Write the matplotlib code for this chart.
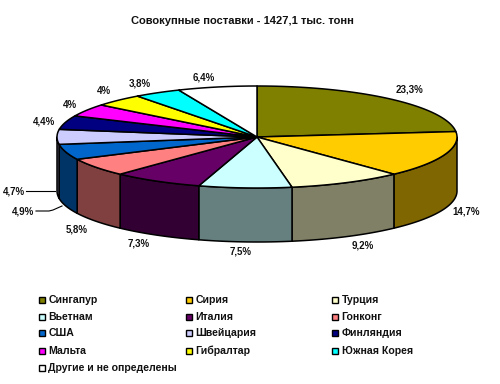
#!/usr/bin/env python3
"""3D-looking pie of total deliveries, drawn by hand since matplotlib has no 3D pie."""

import matplotlib
import numpy as np

matplotlib.use("Agg")
import matplotlib.pyplot as plt
from matplotlib.patches import Polygon, Rectangle

plt.rcParams["font.family"] = ["Liberation Sans", "DejaVu Sans"]

TITLE = "Совокупные поставки - 1427,1 тыс. тонн"
countries = [
    "Сингапур", "Сирия", "Турция", "Вьетнам", "Италия", "Гонконг", "США",
    "Швейцария", "Финляндия", "Мальта", "Гибралтар", "Южная Корея",
    "Другие и не определены",
]
shares = [23.3, 14.7, 9.2, 7.5, 7.3, 5.8, 4.9, 4.7, 4.4, 4.0, 4.0, 3.8, 6.4]
share_labels = [
    "23,3%", "14,7%", "9,2%", "7,5%", "7,3%", "5,8%", "4,9%",
    "4,7%", "4,4%", "4%", "4%", "3,8%", "6,4%",
]
top_colors = [
    "#808000", "#FFCC00", "#FFFFCC", "#CCFFFF", "#660066", "#FF8080", "#0066CC",
    "#CCCCFF", "#000080", "#FF00FF", "#FFFF00", "#00FFFF", "#FFFFFF",
]

# layout, in image pixels
CX, CY, RX, RY, DEPTH = 257, 137, 200, 51, 54
label_pos = [
    (409, 90), (466, 212), (363, 245), (241, 251), (139, 244), (77, 229), (23, 212),
    (14, 191), (44, 121), (70, 105), (104, 91), (140, 84), (204, 78),
]
legend_cols = [42, 189, 335]
legend_rows = [300, 317, 333, 351, 368]


def rim(start, end, dy=0.0):
    theta = np.radians(np.linspace(start, end, 60))
    return np.column_stack((CX + RX * np.sin(theta), CY + dy - RY * np.cos(theta)))


def darker(color):
    rgb = np.array(matplotlib.colors.to_rgb(color))
    return tuple(rgb * 0.5)


fig = plt.figure(figsize=(5, 3.84), dpi=100)
ax = fig.add_axes([0, 0, 1, 1])
ax.set_xlim(0, 500)
ax.set_ylim(384, 0)
ax.axis("off")

edges = np.cumsum([0] + shares) * 3.6
edges[-1] = 360

# walls first, only the front half of the rim (90..270 deg) can be seen
for start, end, color in zip(edges[:-1], edges[1:], top_colors):
    lo, hi = max(start, 90), min(end, 270)
    if lo >= hi:
        continue
    wall = np.vstack((rim(lo, hi), rim(hi, lo, DEPTH)))
    ax.add_patch(Polygon(wall, closed=True, facecolor=darker(color),
                         edgecolor="black", linewidth=1.1, joinstyle="round"))

for start, end, color in zip(edges[:-1], edges[1:], top_colors):
    top = np.vstack(([(CX, CY)], rim(start, end)))
    ax.add_patch(Polygon(top, closed=True, facecolor=color,
                         edgecolor="black", linewidth=1.1, joinstyle="round"))

for text, (x, y) in zip(share_labels, label_pos):
    ax.text(x, y, text, fontsize=7, fontweight="bold", ha="center", va="center",
            color="#111111")

# leader lines of the two labels that sit away from the pie
ax.plot([26, 55], [191, 191], color="black", lw=0.8)
ax.plot([36, 49, 53, 62], [211, 211, 210, 206], color="black", lw=0.8)

ax.text(242, 21, TITLE, fontsize=8, fontweight="bold", ha="center", va="center",
        color="#111111")

for i, (name, color) in enumerate(zip(countries, top_colors)):
    x = legend_cols[i % 3]
    y = legend_rows[i // 3]
    ax.add_patch(Rectangle((x - 3, y - 3), 6, 6, facecolor=color,
                           edgecolor="black", linewidth=1.0))
    ax.text(x + 6.5, y, name, fontsize=7.6, fontweight="bold", ha="left", va="center",
            color="#111111")

fig.savefig("out.png", dpi=100, facecolor="white")
